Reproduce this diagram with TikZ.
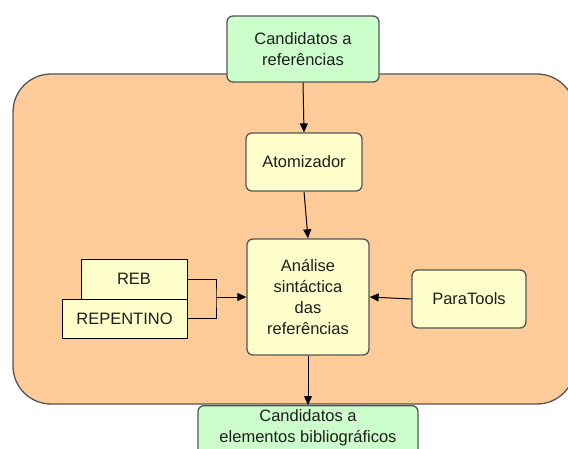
\documentclass[tikz,border=0pt]{standalone}
\usepackage{fontspec}
\setmainfont{Liberation Sans}
\usetikzlibrary{arrows.meta}
\definecolor{boxgreen}{HTML}{CCFFCC}
\definecolor{boxyellow}{HTML}{FFFFCC}
\definecolor{stageorange}{HTML}{FFCC99}
\definecolor{edgegray}{HTML}{555555}
\definecolor{inkgray}{HTML}{1E1E1E}
\tikzset{
  every node/.style={font=\fontsize{16.5}{21}\selectfont, text=inkgray, align=center, inner sep=0pt},
  roundbox/.style={draw=edgegray, line width=1.3pt, rounded corners=6pt},
  inputbox/.style={roundbox, fill=boxgreen},
  procbox/.style={roundbox, fill=boxyellow},
  resbox/.style={draw=black, line width=0.9pt, fill=boxyellow},
  flow/.style={draw=black, line width=1pt, -{Triangle[length=9pt,width=8pt]}},
  joint/.style={draw=black, line width=1pt},
}
\begin{document}
\begin{tikzpicture}[x=1pt, y=-1pt]
  \useasboundingbox (0,0) rectangle (568,448);
  \clip (0,0) rectangle (568,448);
  \fill[white] (0,0) rectangle (568,448);

  % processing stage
  \draw[draw=edgegray, line width=1.3pt, fill=stageorange, rounded corners=38pt]
    (13,74) rectangle (575,404);

  % boxes
  \node[inputbox, minimum width=152pt, minimum height=66pt] (cand) at (303,49)
    {Candidatos a\\referências};
  \node[procbox, minimum width=116pt, minimum height=58pt] (atom) at (304,162)
    {Atomizador};
  \node[procbox, minimum width=122pt, minimum height=116pt] (anal) at (308,297)
    {Análise\\sintáctica\\das\\referências};
  \node[procbox, minimum width=114pt, minimum height=58pt] (para) at (469,299)
    {ParaTools};
  \node[resbox, minimum width=106pt, minimum height=40pt] (reb) at (134,279)
    {REB};
  \node[resbox, minimum width=125pt, minimum height=39pt] (rep) at (124.5,318.5)
    {REPENTINO};
  \node[inputbox, minimum width=220pt, minimum height=70pt, anchor=north, text depth=0pt]
    (elem) at (308,405) {};
  \node[anchor=north] (elemtext) at (308,409.5) {Candidatos a\\elementos bibliográficos};

  % connectors
  \draw[flow] (cand.south) -- (atom.north);
  \draw[flow] (atom.south) -- (anal.north);
  \draw[flow] (anal.south) -- (elem.north);
  \draw[flow] (para.west) -- (anal.east);
  \coordinate (merge) at (216,297);
  \draw[joint] (reb.east) -| (merge) |- (rep.east);
  \draw[flow] (merge) -- (anal.west);
\end{tikzpicture}
\end{document}
